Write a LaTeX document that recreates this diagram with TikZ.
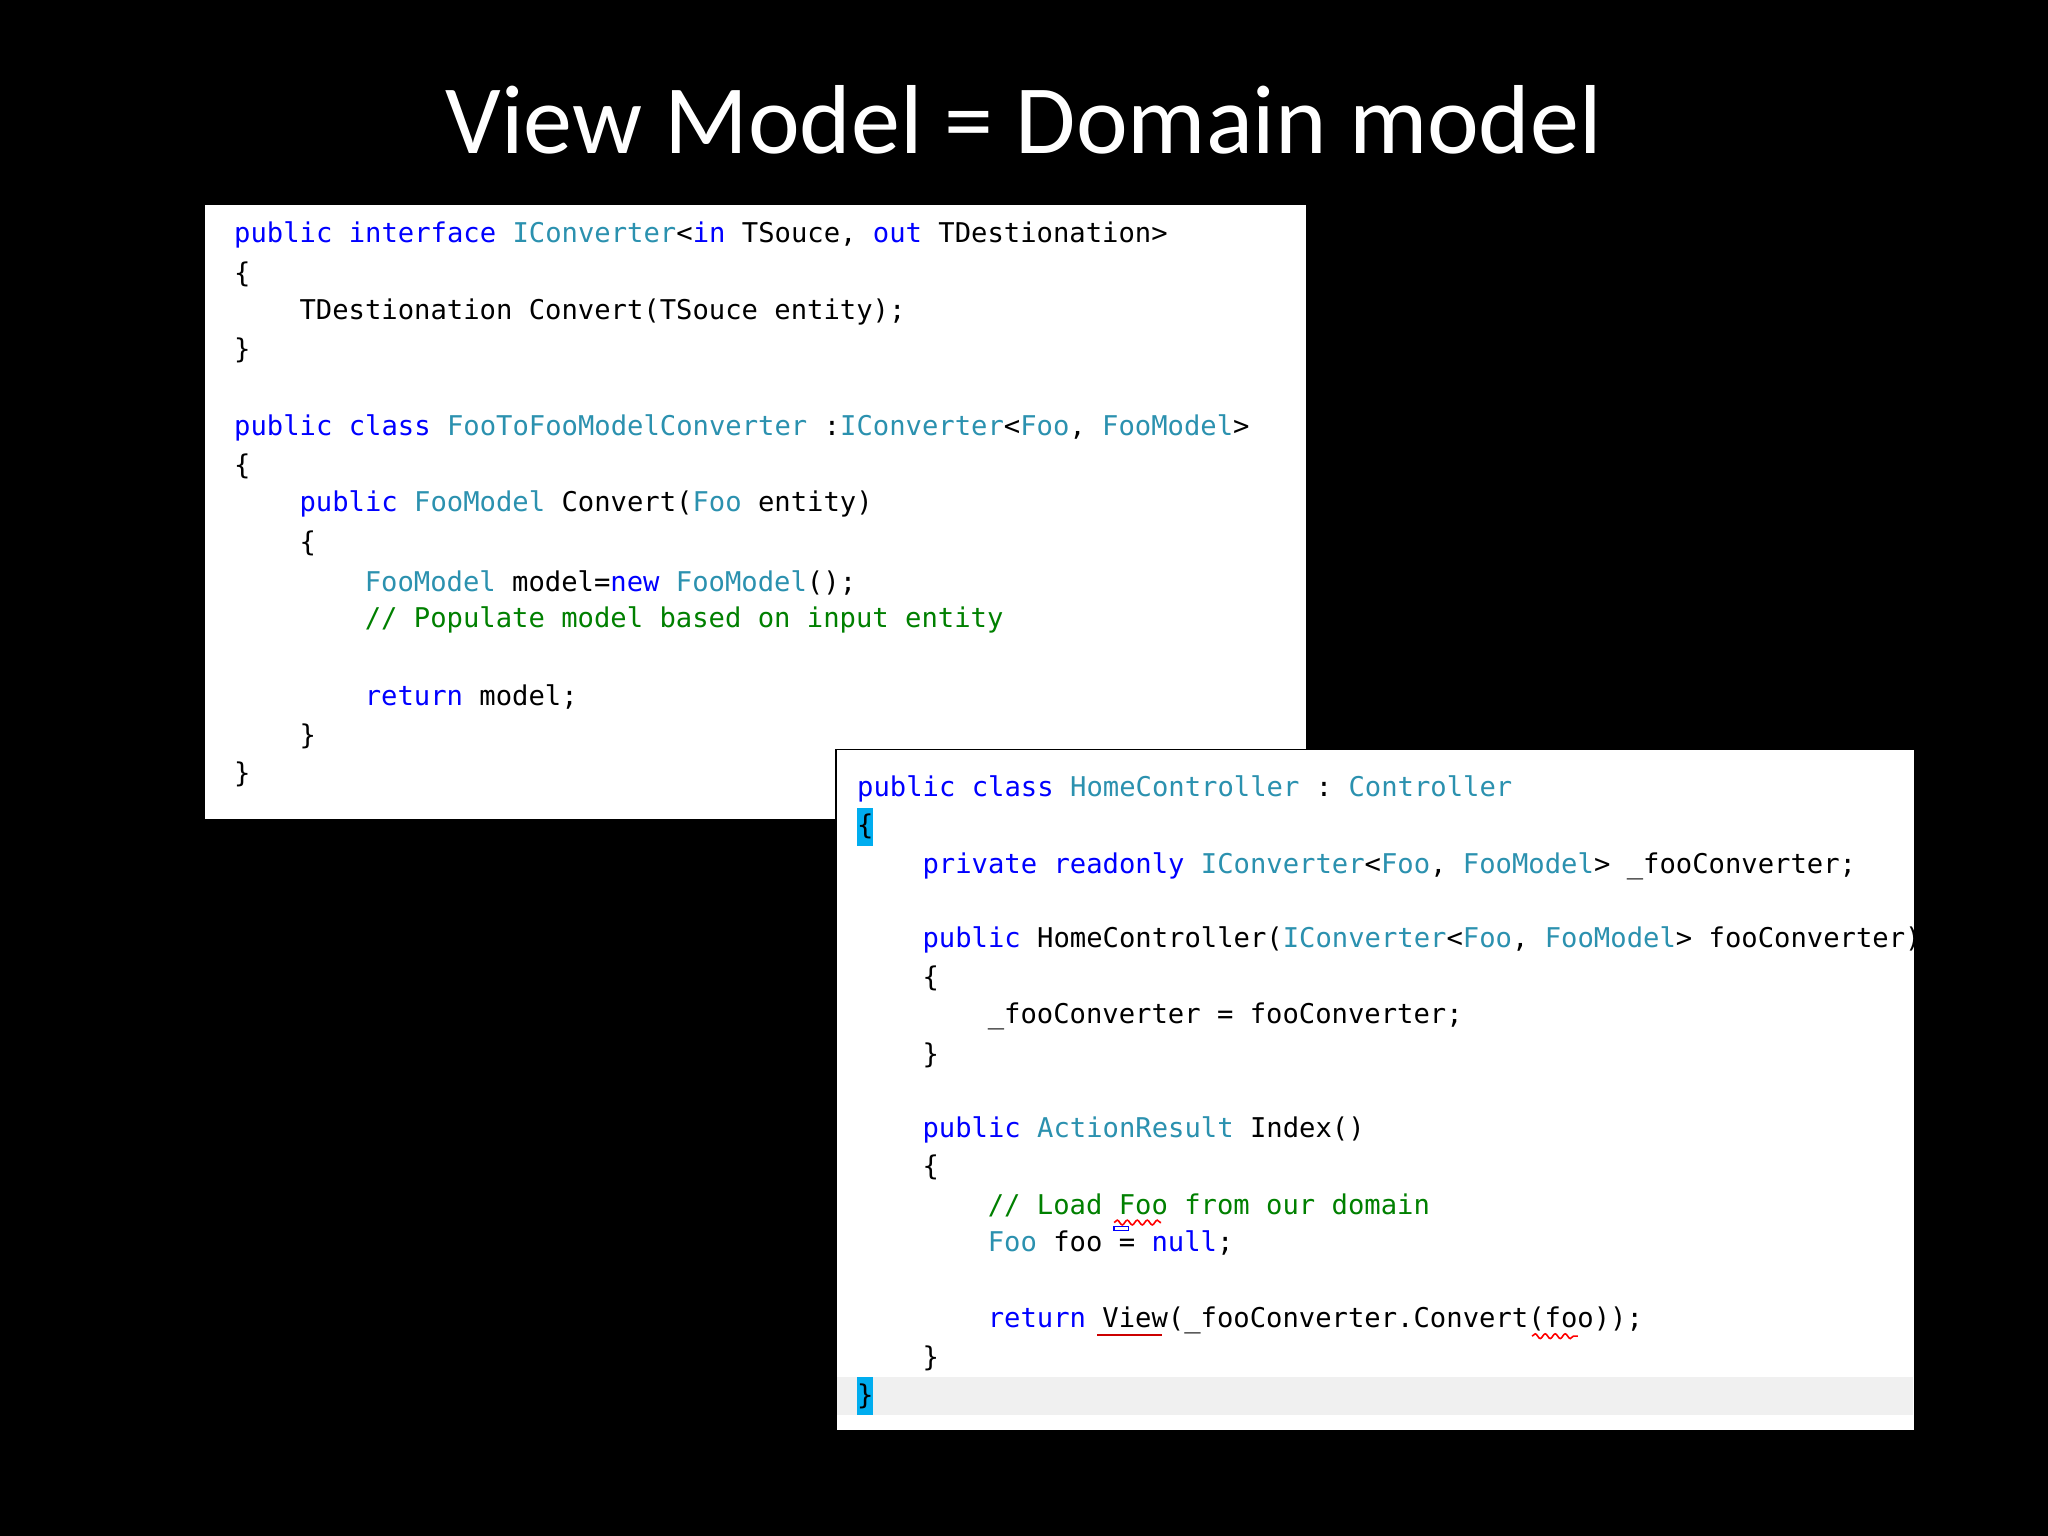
\documentclass[tikz,border=0pt]{standalone}
\usepackage{fontspec}
\setmainfont{Carlito}
\setmonofont{DejaVu Sans Mono}
\usetikzlibrary{decorations.pathmorphing}
\definecolor{kw}{HTML}{0000FF}
\definecolor{ty}{HTML}{2B91AF}
\definecolor{cm}{HTML}{008000}
\newcommand{\kw}[1]{\textcolor{kw}{#1}}
\newcommand{\ty}[1]{\textcolor{ty}{#1}}
\newcommand{\cm}[1]{\textcolor{cm}{#1}}
\begin{document}
\begin{tikzpicture}[x=0.653pt,y=-0.653pt,
  code/.style={anchor=west,inner sep=0pt,font=\fontsize{13.6pt}{16pt}\ttfamily,text=black},
  hl/.style={fill=cyan,inner sep=0pt,minimum width=12*0.653pt,minimum height=29*0.653pt,anchor=west}]
\fill[black] (0,0) rectangle (1568,1176);
\useasboundingbox (0,0) rectangle (1568,1176);
\node[text=white,font=\fontsize{49pt}{58pt}\selectfont] (title) at (784,92) {View Model = Domain model};
% box 1
\fill[white] (157,157) rectangle (1000,627);
\node[code] (a1) at (179,180) {\kw{public} \kw{interface} \ty{IConverter}<\kw{in} TSouce, \kw{out} TDestionation>};
\node[code] (a2) at (179,210) {\{};
\node[code] (a3) at (229,239) {TDestionation Convert(TSouce entity);};
\node[code] (a4) at (179,268) {\}};
\node[code] (a5) at (179,328) {\kw{public} \kw{class} \ty{FooToFooModelConverter} :\ty{IConverter}<\ty{Foo}, \ty{FooModel}>};
\node[code] (a6) at (179,357) {\{};
\node[code] (a7) at (229,386) {\kw{public} \ty{FooModel} Convert(\ty{Foo} entity)};
\node[code] (a8) at (229,416) {\{};
\node[code] (a9) at (279,446) {\ty{FooModel} model=\kw{new} \ty{FooModel}();};
\node[code] (a10) at (279,475) {\cm{// Populate model based on input entity}};
\node[code] (a11) at (279,534) {\kw{return} model;};
\node[code] (a12) at (229,564) {\}};
\node[code] (a13) at (179,593) {\}};
% box 2
\fill[white,draw=black,line width=0.6pt] (640,574) rectangle (1466,1095);
\fill[black!6] (641,1054) rectangle (1465,1083);
\node[hl] (h1) at (656,633) {};
\node[hl] (h2) at (656,1069) {};
\node[code] (b1) at (656,604) {\kw{public} \kw{class} \ty{HomeController} : \ty{Controller}};
\node[code] (b2) at (656,633) {\{};
\node[code] (b3) at (706,663) {\kw{private} \kw{readonly} \ty{IConverter}<\ty{Foo}, \ty{FooModel}> \_fooConverter;};
\node[code] (b4) at (706,720) {\kw{public} HomeController(\ty{IConverter}<\ty{Foo}, \ty{FooModel}> fooConverter)};
\node[code] (b5) at (706,749) {\{};
\node[code] (b6) at (756,778) {\_fooConverter = fooConverter;};
\node[code] (b7) at (706,808) {\}};
\node[code] (b8) at (706,865) {\kw{public} \ty{ActionResult} Index()};
\node[code] (b9) at (706,894) {\{};
\node[code] (b10) at (756,923) {\cm{// Load Foo from our domain}};
\node[code] (b11) at (756,952) {\ty{Foo} foo = \kw{null};};
\node[code] (b12) at (756,1011) {\kw{return} View(\_fooConverter.Convert(foo));};
\node[code] (b13) at (706,1040) {\}};
\node[code] (b14) at (656,1069) {\}};
% squiggles
\draw[red,line width=0.8pt,decorate,decoration={snake,amplitude=1.2pt,segment length=5pt}] (853,936) -- (889,936);
\draw[red,line width=0.8pt,decorate,decoration={snake,amplitude=1.2pt,segment length=5pt}] (1173,1023) -- (1208,1023);
\draw[red!80!black,line width=1pt] (840,1022) -- (890,1022);
\draw[kw,line width=0.8pt] (853,939) rectangle (864,942);
\end{tikzpicture}
\end{document}
